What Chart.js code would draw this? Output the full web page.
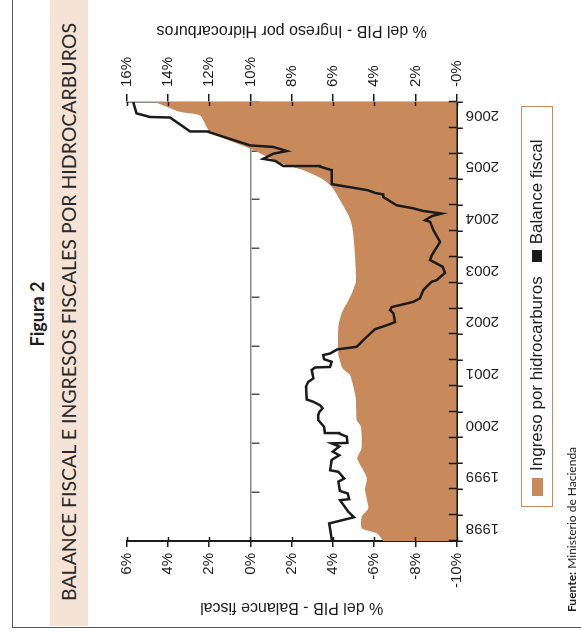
<!DOCTYPE html>
<html>
<head>
<meta charset="utf-8">
<script src="https://cdn.jsdelivr.net/npm/chart.js@4/dist/chart.umd.min.js"></script>
<style>
  html, body { margin: 0; padding: 0; background: #fff; overflow: hidden; }
  body { width: 581px; height: 634px; position: relative; }
  /* the figure is laid out upright, then turned a quarter to the left */
  #fig {
    position: absolute; left: 0; top: 0;
    width: 634px; height: 581px;
    transform-origin: 0 0;
    transform: translate(0, 634px) rotate(-90deg);
    font-family: "Liberation Sans", Arial, sans-serif;
    color: #1e1e1e;
  }
  #frame {
    position: absolute; left: 6px; top: 12px; width: 640px; height: 600px;
    border-left: 1.5px solid #555; border-top: 1.5px solid #555;
  }
  #band {
    position: absolute; left: 8px; top: 50px; width: 626px; height: 38px;
    background: #f5e4d6;
  }
  #fignum {
    position: absolute; left: 0; top: 27px; width: 640px; text-align: center;
    font: bold 18px Lato, sans-serif; line-height: 20px;
  }
  #title {
    position: absolute; left: 8px; top: 57px; width: 628px; text-align: center;
    font: 19.5px Lato, sans-serif; line-height: 24px; color: #2a2a2a;
  }
  #chart { position: absolute; left: 0; top: 0; }
  #legend {
    position: absolute; left: 127px; top: 521px; width: 399px; height: 30px;
    border: 1.5px solid #c88a5a;
    display: flex; align-items: center; font-size: 17px;
  }
  #legend .sw1 { width: 18px; height: 11px; margin: 0 7px 0 10px; background: #c88a5a; }
  #legend .sw2 { width: 12px; height: 10px; margin: 0 6px 0 14px; background: #1b1b1b; }
  #source {
    position: absolute; left: 22px; top: 564px;
    font: 12px Lato, sans-serif; color: #222;
  }
</style>
</head>
<body>
<div id="fig">
  <div id="frame"></div>
  <div id="band"></div>
  <div id="fignum">Figura 2</div>
  <div id="title">BALANCE FISCAL E INGRESOS FISCALES POR HIDROCARBUROS</div>
  <canvas id="chart" width="634" height="581"></canvas>
  <div id="legend">
    <span class="sw1"></span><span>Ingreso por hidrocarburos</span>
    <span class="sw2"></span><span>Balance fiscal</span>
  </div>
  <div id="source"><b>Fuente:</b> Ministerio de Hacienda</div>
</div>

<script>
// Year labels along the time axis
const yearLabels = ['1998', '1999', '2000', '2001', '2002', '2003', '2004', '2005', '2006'];

// Balance fiscal (% del PIB)
const balanceTime = [
  1998.00, 1998.34, 1998.46, 1998.57, 1998.79, 1998.81, 1998.92, 1998.97, 1999.15, 1999.21,
  1999.34, 1999.37, 1999.57, 1999.66, 1999.73, 1999.83, 1999.89, 1999.90, 2000.02, 2000.08,
  2000.09, 2000.21, 2000.34, 2000.44, 2000.50, 2000.57, 2000.63, 2000.70, 2000.74, 2000.99,
  2001.08, 2001.15, 2001.31, 2001.36, 2001.37, 2001.47, 2001.52, 2001.60, 2001.63, 2001.71,
  2001.76, 2001.89, 2002.10, 2002.20, 2002.24, 2002.41, 2002.47, 2002.53, 2002.63, 2002.70,
  2002.86, 2003.02, 2003.05, 2003.19, 2003.31, 2003.44, 2003.53, 2003.79, 2004.02, 2004.18,
  2004.21, 2004.29, 2004.34, 2004.39, 2004.44, 2004.50, 2004.66, 2004.71, 2004.74, 2004.79,
  2004.84, 2004.86, 2004.91, 2005.18, 2005.25, 2005.26, 2005.36, 2005.40, 2005.50, 2005.55,
  2005.63, 2005.66, 2005.92, 2005.93, 2006.20, 2006.21, 2006.28, 2006.50
];
const balanceValue = [
  -3.95, -3.82, -5.02, -4.74, -4.34, -4.79, -4.72, -4.34, -4.26, -4.55,
  -4.26, -3.86, -3.94, -4.31, -3.99, -4.31, -3.94, -4.70, -4.67, -4.31,
  -3.61, -3.57, -3.29, -3.29, -3.34, -3.50, -3.37, -3.02, -2.73, -2.69,
  -2.80, -3.05, -2.97, -3.13, -3.86, -3.94, -3.57, -3.53, -3.86, -4.21,
  -5.15, -5.47, -6.04, -6.77, -7.01, -6.93, -6.77, -6.85, -7.90, -8.22,
  -8.38, -8.79, -9.03, -9.43, -9.32, -8.71, -8.79, -9.19, -8.87, -8.71,
  -8.46, -8.79, -9.27, -8.38, -7.90, -7.09, -6.44, -6.44, -6.04, -5.71,
  -4.99, -4.67, -3.94, -3.94, -3.37, -1.59, -1.20, -0.62, -1.11, -1.76,
  -1.11, 0.02, 2.04, 2.93, 3.90, 4.87, 5.52, 5.68
];

const ingresoTime = [
  1998.00, 1998.15, 1998.25, 1998.47, 1998.63, 1998.99, 1999.23, 1999.60, 1999.79, 2000.21,
  2000.34, 2000.73, 2000.86, 2001.21, 2001.34, 2001.63, 2002.15, 2002.41, 2002.60, 2002.79,
  2003.05, 2003.95, 2004.24, 2004.60, 2004.86, 2005.02, 2005.18, 2005.30, 2005.60, 2005.92,
  2006.24, 2006.31, 2006.50
];
const ingresoValue = [
  3.56, 3.88, 4.61, 4.61, 4.29, 4.45, 4.36, 4.82, 4.61, 4.64,
  4.85, 4.88, 4.93, 5.17, 5.53, 5.74, 5.74, 5.58, 5.33, 5.09,
  4.88, 5.01, 5.17, 5.66, 6.06, 6.55, 7.44, 8.41, 10.02, 11.96,
  12.45, 13.42, 14.63
];

// Tick labels as printed (left: -10 .. 6, right: 0 .. 16)
const leftTickLabels = ['-10%', '-8%', '-6%', '4%', '2%', '0%', '2%', '4%', '6%'];
const rightTickLabels = ['-0%', '2%', '4%', '6%', '8%', '10%', '12%', '14%', '16%'];

const orange = '#c88a5a';
const ink = '#1b1b1b';
const axisGray = '#8a8a8a';
const tickFont = { family: 'Liberation Sans', size: 15 };

// Short tick stubs that cross the axes on the inside
const crossTicks = {
  id: 'crossTicks',
  afterDraw(chart) {
    const ctx = chart.ctx;
    const xs = chart.scales.x, yl = chart.scales.yL, yr = chart.scales.yR;
    ctx.save();
    ctx.lineWidth = 1.5;
    ctx.strokeStyle = ink;
    ctx.beginPath();
    xs.ticks.forEach(t => {
      if (t.value % 0.5 !== 0) return;
      const px = Math.round(xs.getPixelForValue(t.value)) + 0.5;
      ctx.moveTo(px, xs.top);
      ctx.lineTo(px, xs.top - 8);
    });
    yl.ticks.forEach(t => {
      const py = Math.round(yl.getPixelForValue(t.value)) + 0.5;
      ctx.moveTo(yl.right, py);
      ctx.lineTo(yl.right + 4, py);
    });
    yr.ticks.forEach(t => {
      const py = Math.round(yr.getPixelForValue(t.value)) + 0.5;
      ctx.moveTo(yr.left, py);
      ctx.lineTo(yr.left - 4, py);
    });
    ctx.stroke();
    ctx.restore();
  }
};

// Right axis title reads bottom-to-top, unlike Chart.js' default
const rightTitle = {
  id: 'rightTitle',
  afterDraw(chart) {
    const ctx = chart.ctx;
    const area = chart.chartArea;
    ctx.save();
    ctx.translate(chart.width - 30, (area.top + area.bottom) / 2);
    ctx.rotate(-Math.PI / 2);
    ctx.font = '16px "Liberation Sans"';
    ctx.fillStyle = '#1e1e1e';
    ctx.textAlign = 'center';
    ctx.textBaseline = 'middle';
    ctx.fillText('% del PIB - Ingreso por Hidrocarburos', 0, 0);
    ctx.restore();
  }
};

const ctx = document.getElementById('chart').getContext('2d');
const chart = new Chart(ctx, {
  type: 'line',
  data: {
    datasets: [
      {
        label: 'Balance fiscal',
        data: balanceTime.map((t, i) => ({ x: t, y: balanceValue[i] })),
        yAxisID: 'yL',
        borderColor: ink,
        backgroundColor: ink,
        borderWidth: 2.5,
        pointRadius: 0,
        fill: false,
        tension: 0,
        order: 0
      },
      {
        label: 'Ingreso por hidrocarburos',
        data: ingresoTime.map((t, i) => ({ x: t, y: ingresoValue[i] })),
        yAxisID: 'yR',
        borderColor: orange,
        backgroundColor: orange,
        borderWidth: 0,
        pointRadius: 0,
        fill: 'origin',
        tension: 0.2,
        order: 1
      }
    ]
  },
  options: {
    responsive: false,
    animation: false,
    events: [],
    layout: { padding: { left: 13, right: 12, top: 126.7, bottom: 74.3 } },
    plugins: {
      legend: { display: false },
      tooltip: { enabled: false }
    },
    scales: {
      x: {
        type: 'linear',
        position: 'bottom',
        min: 1998,
        max: 2006.5,
        afterBuildTicks: scale => {
          const ticks = [];
          yearLabels.forEach((y, i) => {
            const v = 1998 + i;
            ticks.push({ value: v }, { value: v + 0.25 }, { value: v + 0.5 });
          });
          scale.ticks = ticks;
        },
        afterFit: scale => { scale.height = 50; },
        border: { color: ink, width: 2 },
        grid: {
          drawOnChartArea: false,
          tickLength: 6,
          lineWidth: 1.5,
          tickColor: c => (c.tick && c.tick.value % 0.5 === 0 ? ink : 'rgba(0,0,0,0)')
        },
        ticks: {
          autoSkip: false,
          minRotation: 90,
          maxRotation: 90,
          padding: 3,
          color: '#1e1e1e',
          font: tickFont,
          callback: value => {
            const y = Math.floor(value);
            return value - y === 0.25 ? yearLabels[y - 1998] : '';
          }
        }
      },
      xZero: {
        axis: 'x',
        type: 'linear',
        position: { yL: 0 },
        min: 0,
        max: 9,
        z: 1,
        border: { color: axisGray, width: 1.5 },
        grid: { drawOnChartArea: false, tickLength: 8, lineWidth: 1.5, tickColor: '#555' },
        ticks: { display: false, stepSize: 1 }
      },
      yL: {
        type: 'linear',
        position: 'left',
        min: -10,
        max: 6,
        afterFit: scale => { scale.width = 80; },
        border: { color: ink, width: 2 },
        grid: { drawOnChartArea: false, tickLength: 6, lineWidth: 1.5, tickColor: ink },
        ticks: {
          stepSize: 2,
          padding: 6,
          color: '#1e1e1e',
          font: tickFont,
          callback: value => leftTickLabels[(value + 10) / 2]
        },
        title: {
          display: true,
          text: '% del PIB - Balance fiscal',
          color: '#1e1e1e',
          font: { family: 'Liberation Sans', size: 16 },
          padding: { top: 4, bottom: 0 }
        }
      },
      yR: {
        type: 'linear',
        position: 'right',
        min: 0,
        max: 16,
        afterFit: scale => { scale.width = 90; },
        border: { color: axisGray, width: 1.5 },
        grid: { drawOnChartArea: false, tickLength: 8, lineWidth: 1.5, tickColor: ink },
        ticks: {
          stepSize: 2,
          padding: 7,
          color: '#1e1e1e',
          font: tickFont,
          callback: value => rightTickLabels[value / 2]
        }
      }
    }
  },
  plugins: [crossTicks, rightTitle]
});
</script>
</body>
</html>
